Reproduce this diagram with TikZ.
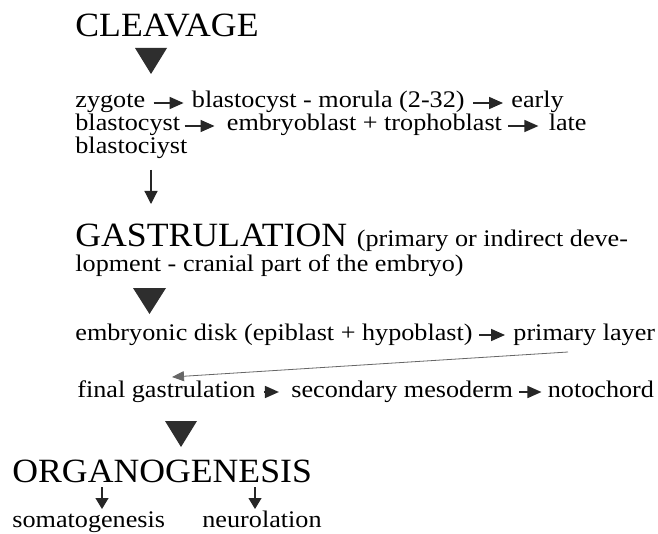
\documentclass[tikz,border=0pt]{standalone}
\usepackage{fontspec}
\setmainfont{Liberation Serif}
\newfontfamily\bodyf[FakeStretch=1.1]{Liberation Serif}
\newfontfamily\headf[FakeStretch=1.05]{Liberation Serif}
\usetikzlibrary{arrows.meta,calc}
\begin{document}
\begin{tikzpicture}[x=0.5pt,y=-0.5pt,
  txt/.style={inner sep=0pt,anchor=base west,font=\bodyf\fontsize{11.9}{13}\selectfont,text=black},
  hd/.style={inner sep=0pt,anchor=base west,font=\headf\fontsize{17}{20}\selectfont,text=black},
  inl/.style={line width=0.8pt,black!85,-{Triangle[length=7pt,width=6pt]}},
  dn/.style={line width=0.6pt,black!85,-{Triangle[length=6.5pt,width=6.5pt]}},
  dnsmall/.style={line width=0.6pt,black!85,-{Triangle[length=5.5pt,width=6.5pt]}},
  tri/.style={fill=black!82},
  back/.style={line width=0.4pt,black!60,-{Triangle[length=6pt,width=5pt]}}]
\useasboundingbox[fill=white] (0,0) rectangle (658,534);

% CLEAVAGE
\node[hd] (clv) at (75,37) {CLEAVAGE};
\fill[tri] (135,48) -- (167,48) -- (151,74) -- cycle;

% line 1
\node[txt] (z) at (75,108) {zygote};
\node[txt] (bm) at ($(z.base east)+(46,0)$) {blastocyst - morula (2-32)};
\node[txt] (ea) at ($(bm.base east)+(46,0)$) {early};
\draw[inl] ($(z.base east)+(8,-5)$) -- ($(bm.base west)+(-8,-5)$);
\draw[inl] ($(bm.base east)+(8,-5)$) -- ($(ea.base west)+(-8,-5)$);

% line 2
\node[txt] (bl) at (75,131) {blastocyst};
\node[txt] (et) at ($(bl.base east)+(46,0)$) {embryoblast + trophoblast};
\node[txt] (la) at ($(et.base east)+(46,0)$) {late};
\draw[inl] ($(bl.base east)+(4,-5)$) -- ($(et.base west)+(-12,-5)$);
\draw[inl] ($(et.base east)+(6,-5)$) -- ($(la.base west)+(-10,-5)$);

% line 3
\node[txt] (bc) at (75,154) {blastociyst};

% arrow to gastrulation
\node[hd] (gas) at (75,247) {GASTRULATION};
\node[txt] (gas2) at ($(gas.base east)+(9,0)$) {(primary or indirect deve-};
\node[txt] (lop) at (75,271) {lopment - cranial part of the embryo)};
\coordinate (a1s) at (151,170);
\coordinate (a1e) at (151,204);
\draw[dn] (a1s) -- (a1e);

\fill[tri] (133,288) -- (166,288) -- (149.5,314) -- cycle;

% embryonic line
\node[txt] (emb) at (75,340) {embryonic disk (epiblast + hypoblast)};
\node[txt] (pl) at ($(emb.base east)+(40,0)$) {primary layer};
\draw[inl] ($(emb.base east)+(6,-5)$) -- ($(pl.base west)+(-8,-5)$);

% final line
\node[txt] (fg) at (77,397) {final gastrulation};
\node[txt] (sm) at ($(fg.base east)+(35,0)$) {secondary mesoderm};
\node[txt] (nc) at ($(sm.base east)+(34,0)$) {notochord};
\draw[inl] ($(fg.base east)+(8,-5)$) -- ($(sm.base west)+(-12,-5)$);
\draw[inl] ($(sm.base east)+(6,-5)$) -- ($(nc.base west)+(-6,-5)$);

% back arrow
\coordinate (bs) at (568,352);
\coordinate (be) at (172,377);
\draw[back] (bs) -- (be);

\fill[tri] (165,421) -- (197,421) -- (181,447) -- cycle;

% ORGANOGENESIS
\node[hd] (org) at (12,482) {ORGANOGENESIS};
\node[txt] (som) at (12,527) {somatogenesis};
\node[txt] (neu) at (202,527) {neurolation};
\draw[dnsmall] (102,487) -- (102,509);
\draw[dnsmall] (255,487) -- (255,509);
\end{tikzpicture}
\end{document}
